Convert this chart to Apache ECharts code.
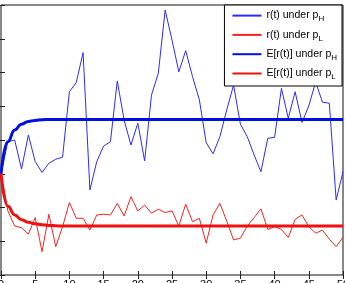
<!DOCTYPE html>
<html>
<head>
<meta charset="utf-8">
<script src="https://cdn.jsdelivr.net/npm/echarts@6/dist/echarts.min.js"></script>
<style>
  html, body { margin: 0; padding: 0; background: #fff; }
  #main { width: 345px; height: 283px; }
</style>
</head>
<body>
<div id="main"></div>
<script>
// time steps t = 0..50
const steps = [0, 1, 2, 3, 4, 5, 6, 7, 8, 9, 10, 11, 12, 13, 14, 15, 16, 17, 18, 19, 20,
  21, 22, 23, 24, 25, 26, 27, 28, 29, 30, 31, 32, 33, 34, 35, 36, 37, 38, 39, 40,
  41, 42, 43, 44, 45, 46, 47, 48, 49, 50];

// r(t) under p_H (thin blue)
const sampleHigh = [3.00, 3.95, 4.00, 3.14, 4.15, 3.36, 3.04, 3.31, 3.43, 3.49,
  5.43, 5.70, 6.59, 2.52, 3.36, 3.82, 3.95, 5.75, 4.59, 3.85,
  4.50, 3.38, 5.33, 5.98, 7.85, 6.96, 6.02, 6.65, 5.88, 5.19,
  3.92, 3.59, 4.10, 4.89, 5.63, 4.47, 4.10, 3.56, 3.06, 4.05,
  4.08, 5.53, 4.64, 5.43, 4.52, 5.01, 5.72, 5.12, 5.09, 2.22, 3.06];

// r(t) under p_L (thin red)
const sampleLow = [3.00, 1.90, 1.45, 1.40, 1.21, 1.70, 0.69, 1.80, 0.84, 1.43,
  2.15, 1.68, 1.68, 1.33, 1.78, 1.80, 1.78, 2.12, 1.75, 2.32,
  1.90, 2.07, 1.83, 1.95, 1.85, 1.90, 1.45, 2.10, 1.58, 1.68,
  0.94, 1.78, 2.12, 1.60, 1.04, 1.09, 1.45, 1.70, 1.96, 1.35,
  1.43, 1.35, 1.11, 1.65, 1.78, 1.43, 1.24, 1.33, 1.06, 0.84, 1.12];

// E[r(t)] under p_H (thick blue)
const meanHigh = [3.00, 3.95, 4.30, 4.47, 4.55, 4.58, 4.60, 4.61, 4.61, 4.61,
  4.61, 4.61, 4.61, 4.61, 4.61, 4.61, 4.61, 4.61, 4.61, 4.61,
  4.61, 4.61, 4.61, 4.61, 4.61, 4.61, 4.61, 4.61, 4.61, 4.61,
  4.61, 4.61, 4.61, 4.61, 4.61, 4.61, 4.61, 4.61, 4.61, 4.61,
  4.61, 4.61, 4.61, 4.61, 4.61, 4.61, 4.61, 4.61, 4.61, 4.61, 4.61];

// E[r(t)] under p_L (thick red)
const meanLow = [3.00, 2.04, 1.78, 1.64, 1.56, 1.52, 1.49, 1.47, 1.46, 1.45,
  1.45, 1.45, 1.45, 1.45, 1.45, 1.45, 1.45, 1.45, 1.45, 1.45,
  1.45, 1.45, 1.45, 1.45, 1.45, 1.45, 1.45, 1.45, 1.45, 1.45,
  1.45, 1.45, 1.45, 1.45, 1.45, 1.45, 1.45, 1.45, 1.45, 1.45,
  1.45, 1.45, 1.45, 1.45, 1.45, 1.45, 1.45, 1.45, 1.45, 1.45, 1.45];

const names = ['r(t) under p_H', 'r(t) under p_L', 'E[r(t)] under p_H', 'E[r(t)] under p_L'];

const pairs = arr => steps.map((t, i) => [t, arr[i]]);

const chart = echarts.init(document.getElementById('main'));

const xBase = {
  type: 'value', min: 0, max: 50, interval: 5,
  axisLine: { show: false },
  axisTick: { inside: true, length: 4, lineStyle: { color: '#222' } },
  splitLine: { show: false }
};
const yBase = {
  type: 'value', min: 0, max: 8, interval: 1,
  axisLine: { show: false },
  axisTick: { inside: true, length: 4, lineStyle: { color: '#222' } },
  axisLabel: { show: false },
  splitLine: { show: false }
};

chart.setOption({
  animation: false,
  textStyle: { fontFamily: 'Liberation Sans' },
  grid: {
    left: 1, right: 2, top: 5, bottom: 8,
    containLabel: false,
    outerBoundsMode: 'none',
    show: true, borderColor: '#111', borderWidth: 1
  },
  xAxis: [
    Object.assign({}, xBase, {
      position: 'bottom',
      axisLabel: { margin: 4, fontSize: 11, color: '#000' }
    }),
    Object.assign({}, xBase, { position: 'top', axisLabel: { show: false } })
  ],
  yAxis: [
    Object.assign({}, yBase, { position: 'left' }),
    Object.assign({}, yBase, { position: 'right' })
  ],
  legend: {
    orient: 'vertical',
    right: 3, top: 5,
    padding: [5, 5, 5, 7],
    itemGap: 6.2,
    itemWidth: 29,
    itemHeight: 14,
    itemStyle: { opacity: 0 },
    backgroundColor: '#fff',
    borderColor: '#000',
    borderWidth: 1,
    borderRadius: 0,
    data: names,
    formatter: n => n.replace(/_(\w)$/, '{sub|$1}'),
    textStyle: {
      fontSize: 10.5, color: '#000', fontFamily: 'Liberation Sans',
      rich: {
        sub: { fontSize: 8, padding: [7, 0, 0, 0], color: '#000', fontFamily: 'Liberation Sans' }
      }
    }
  },
  series: [
    { name: names[0], type: 'line', data: pairs(sampleHigh), symbol: 'none',
      lineStyle: { color: '#2a2aff', width: 1 }, itemStyle: { color: '#2a2aff' } },
    { name: names[1], type: 'line', data: pairs(sampleLow), symbol: 'none',
      lineStyle: { color: '#ff2020', width: 1 }, itemStyle: { color: '#ff2020' } },
    { name: names[2], type: 'line', data: pairs(meanHigh), symbol: 'none',
      smooth: true, smoothMonotone: 'x',
      lineStyle: { color: '#0010e0', width: 3 }, itemStyle: { color: '#0010e0' } },
    { name: names[3], type: 'line', data: pairs(meanLow), symbol: 'none',
      smooth: true, smoothMonotone: 'x',
      lineStyle: { color: '#f01010', width: 3 }, itemStyle: { color: '#f01010' } }
  ]
});
</script>
</body>
</html>
